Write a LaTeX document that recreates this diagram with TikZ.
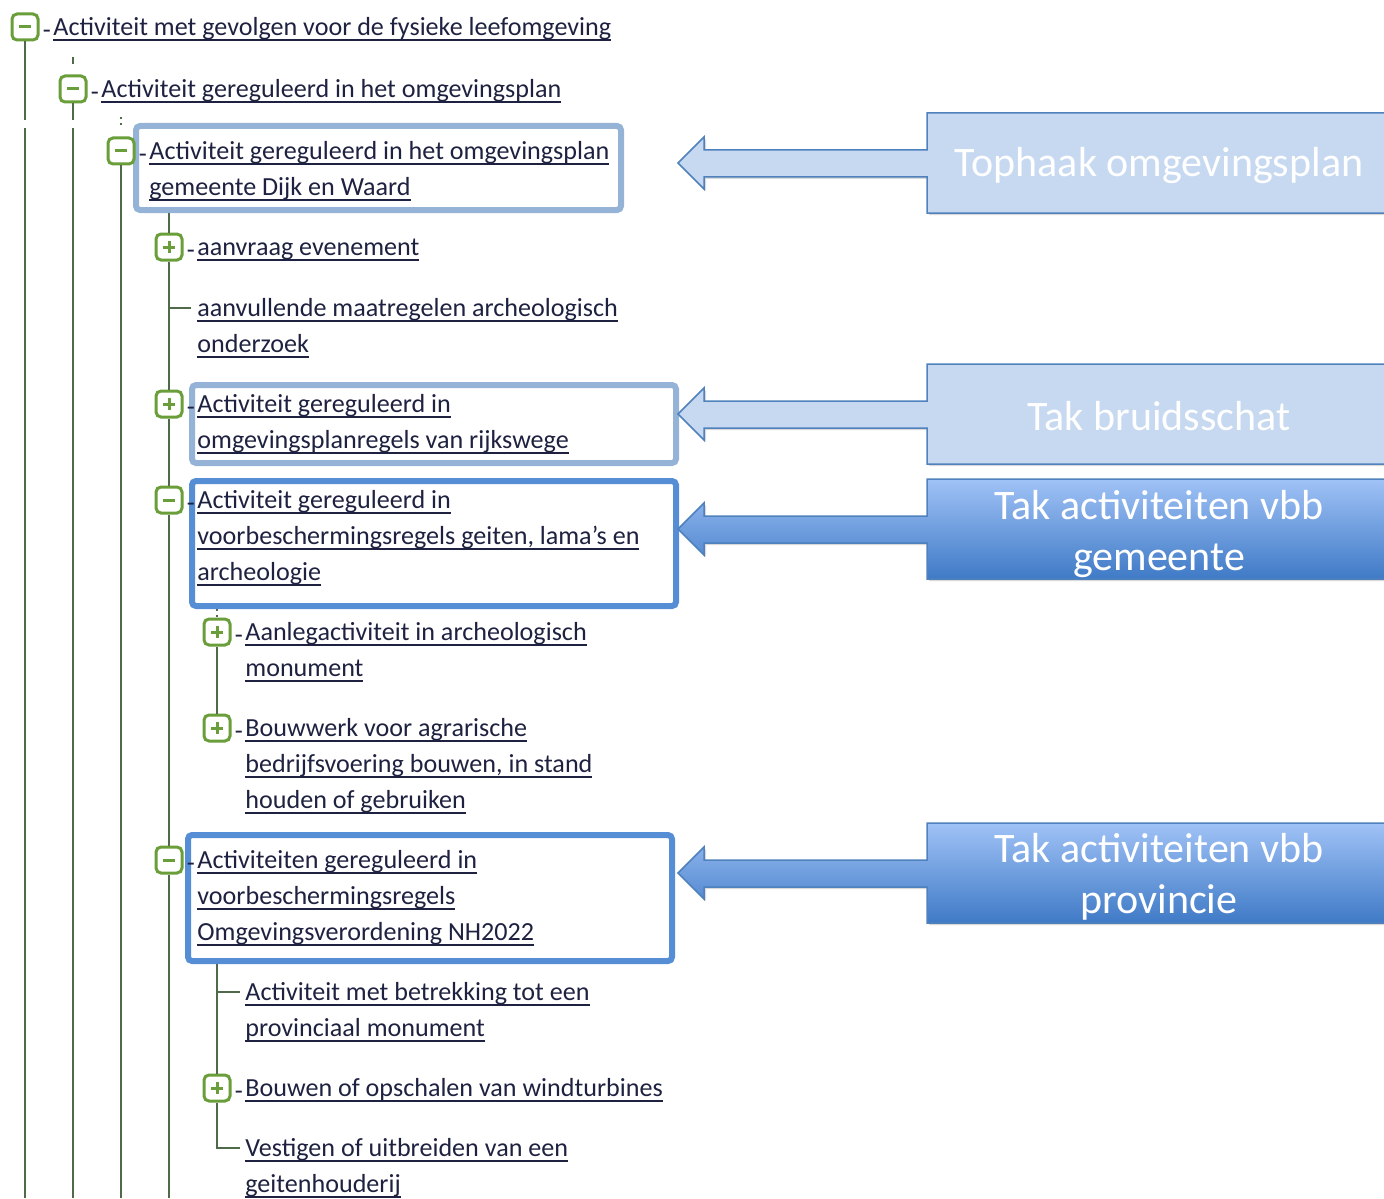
\documentclass[tikz,border=0pt]{standalone}
\usepackage{fontspec}
\setmainfont{Carlito}
\usetikzlibrary{positioning,calc,fit,shadows}
\definecolor{TreeGreen}{HTML}{6A9E3A}
\definecolor{Branch}{HTML}{4E6A48}
\definecolor{Ink}{HTML}{1E2240}
\definecolor{HiSoft}{HTML}{95B3D7}
\definecolor{HiStrong}{HTML}{558ED5}
\definecolor{CallSoft}{HTML}{C6D9F1}
\definecolor{CallEdge}{HTML}{4F81BD}
\definecolor{CallTop}{HTML}{A0C2F6}
\definecolor{CallBot}{HTML}{3F7AC6}
\newcommand\treefont{\fontsize{13.05}{18}\selectfont\color{Ink}}
\newsavebox\ulbox
\newcommand\uln[1]{\strut\sbox\ulbox{#1}\rlap{\rule[-2.6pt]{\wd\ulbox}{.85pt}}\usebox\ulbox}
\tikzset{
  toggle/.style={draw=TreeGreen,fill=white,line width=1.5pt,rounded corners=2.5pt,minimum size=13pt,inner sep=0pt,
    label={[font=\treefont,inner sep=0pt,xshift=1.5pt,yshift=-3.5pt]right:-}},
  tminus/.style={toggle,path picture={\draw[TreeGreen,line width=1.5pt] ([xshift=-3pt]path picture bounding box.center) -- ([xshift=3pt]path picture bounding box.center);}},
  tplus/.style={toggle,path picture={\draw[TreeGreen,line width=1.5pt] ([xshift=-3pt]path picture bounding box.center) -- ([xshift=3pt]path picture bounding box.center) ([yshift=-3pt]path picture bounding box.center) -- ([yshift=3pt]path picture bounding box.center);}},
  entry/.style={anchor=north west,inner sep=0pt,align=left,font=\treefont},
  branch/.style={draw=Branch,line width=1pt},
  stub/.style={branch,dash pattern=on 1pt off 2pt},
  hisoft/.style={draw=HiSoft,fill=white,line width=3pt,rounded corners=2pt,inner sep=0pt,drop shadow={opacity=.25,shadow xshift=1pt,shadow yshift=-1pt}},
  histrong/.style={hisoft,draw=HiStrong},
  callsoft/.style={fill=CallSoft,draw=CallEdge,line width=.75pt,drop shadow={opacity=.3,shadow xshift=1pt,shadow yshift=-1pt}},
  callstrong/.style={top color=CallTop,bottom color=CallBot,draw=CallEdge,line width=.75pt,drop shadow={opacity=.3,shadow xshift=1pt,shadow yshift=-1pt}},
  calltext/.style={text=white,font=\fontsize{21}{25.5}\selectfont,align=center}
}
\begin{document}
\begin{tikzpicture}[x=0.5pt,y=-0.5pt]
  \useasboundingbox (0,0) rectangle (1384,1198);
  \clip (0,0) rectangle (1384,1198);
  \coordinate (gapt) at (0,120);
  \coordinate (gapb) at (0,128);
  \coordinate (bot) at (0,1198);
  % highlighted branches
  \node[hisoft,fit={(136,126)(621,210)}] (hb1) {};
  \node[hisoft,fit={(192,385)(676,463)}] (hb2) {};
  \node[histrong,fit={(192,481)(676,606)}] (hb3) {};
  \node[histrong,fit={(188,835)(672,961)}] (hb4) {};
  % callouts
  \foreach \top/\sty in {113/callsoft,364/callsoft,479/callstrong,823/callstrong}
    \path[\sty] (927,\top) -- (1391,\top) -- (1391,\top+100) -- (927,\top+100) -- (927,\top+64) -- (704,\top+64)
      -- (704,\top+76) -- (678,\top+50) -- (704,\top+24) -- (704,\top+37) -- (927,\top+37) -- cycle;
  \node[calltext] (c1) at (1159,166) {Tophaak omgevingsplan};
  \node[calltext] (c2) at (1159,416) {Tak bruidsschat};
  \node[calltext] (c3) at (1159,534) {Tak activiteiten vbb\\gemeente};
  \node[calltext] (c4) at (1159,877) {Tak activiteiten vbb\\provincie};
  % toggles
  \node[tminus] (i0) at (25,27) {};
  \node[tminus] (i1) at (73,89) {};
  \node[tminus] (i2) at (121,151) {};
  \node[tplus] (i3a) at (169,247) {};
  \node[tplus] (i3c) at (169,404) {};
  \node[tminus] (i3d) at (169,500) {};
  \node[tplus] (i4a) at (217,632) {};
  \node[tplus] (i4b) at (217,728) {};
  \node[tminus] (i3e) at (169,860) {};
  \node[tplus] (i4d) at (217,1088) {};
  % entries
  \node[entry] (t0) at (53,10) {\uln{Activiteit met gevolgen voor de fysieke leefomgeving}};
  \node[entry] (t1) at (101,72) {\uln{Activiteit gereguleerd in het omgevingsplan}};
  \node[entry] (t2) at (149,134) {\uln{Activiteit gereguleerd in het omgevingsplan}\\\uln{gemeente Dijk en Waard}};
  \node[entry] (t3a) at (197,230) {\uln{aanvraag evenement}};
  \node[entry] (t3b) at (197,291) {\uln{aanvullende maatregelen archeologisch}\\\uln{onderzoek}};
  \node[entry] (t3c) at (197,387) {\uln{Activiteit gereguleerd in}\\\uln{omgevingsplanregels van rijkswege}};
  \node[entry] (t3d) at (197,483) {\uln{Activiteit gereguleerd in}\\\uln{voorbeschermingsregels geiten, lama’s en}\\\uln{archeologie}};
  \node[entry] (t4a) at (245,615) {\uln{Aanlegactiviteit in archeologisch}\\\uln{monument}};
  \node[entry] (t4b) at (245,711) {\uln{Bouwwerk voor agrarische}\\\uln{bedrijfsvoering bouwen, in stand}\\\uln{houden of gebruiken}};
  \node[entry] (t3e) at (197,843) {\uln{Activiteiten gereguleerd in}\\\uln{voorbeschermingsregels}\\\uln{Omgevingsverordening NH2022}};
  \node[entry] (t4c) at (245,975) {\uln{Activiteit met betrekking tot een}\\\uln{provinciaal monument}};
  \node[entry] (t4d) at (245,1071) {\uln{Bouwen of opschalen van windturbines}};
  \node[entry] (t4e) at (245,1131) {\uln{Vestigen of uitbreiden van een}\\\uln{geitenhouderij}};
  % branch lines
  \draw[branch] (i0.south) -- (i0 |- gapt) (i0 |- gapb) -- (i0 |- bot);
  \draw[branch] ($(i1.north)+(0,-17)$) -- ($(i1.north)+(0,-10)$) (i1.south) -- (i1 |- gapt) (i1 |- gapb) -- (i1 |- bot);
  \draw[stub] ($(i2.north)+(0,-19)$) -- ($(i2.north)+(0,-10)$);
  \draw[branch] (i2.south) -- (i2 |- bot);
  \draw[branch] (i3a |- hb1.south) -- (i3a.north) (i3a.south) -- (i3c.north) (i3c.south) -- (i3d.north)
    (i3d.south) -- (i3e.north) (i3e.south) -- (i3e |- bot);
  \draw[branch] ($(t3b.north west)+(-6,17)$) -- ($(i3a |- t3b.north west)+(0,17)$);
  \draw[stub] (i4a |- hb3.south) -- (i4a.north);
  \draw[branch] (i4a.south) -- (i4b.north);
  \draw[branch] (i4d |- hb4.south) -- (i4d.north) (i4d.south) -- ($(i4d |- t4e.north west)+(0,17)$) -- ($(t4e.north west)+(-5,17)$);
  \draw[branch] ($(t4c.north west)+(-5,17)$) -- ($(i4d |- t4c.north west)+(0,17)$);
\end{tikzpicture}
\end{document}
